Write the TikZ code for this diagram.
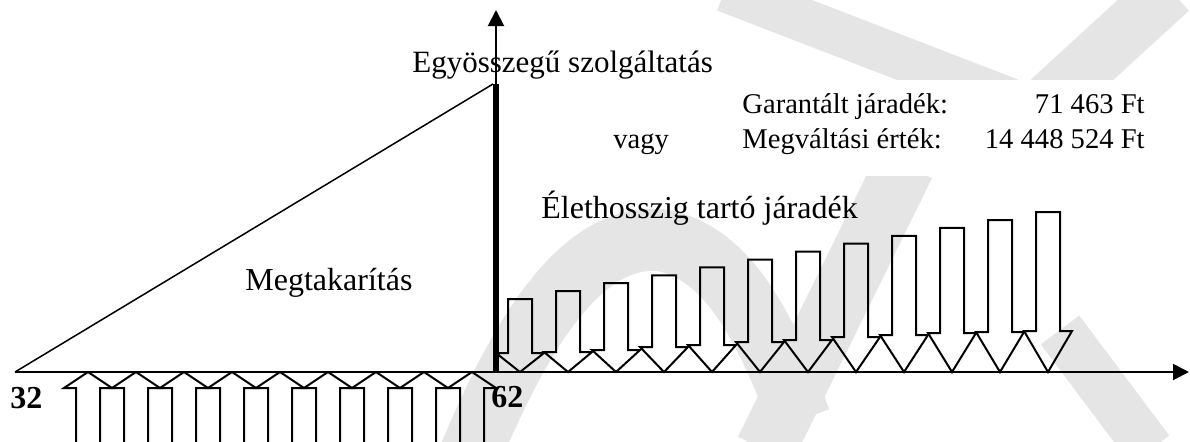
\documentclass[tikz,border=0pt]{standalone}
\usepackage{fontspec}
\setmainfont{Liberation Serif}
\usetikzlibrary{arrows.meta}
\definecolor{wm}{RGB}{229,229,229}
\begin{document}
\begin{tikzpicture}[x=0.5pt,y=-0.5pt,
  lbl/.style={anchor=base west,inner sep=0pt,font=\fontsize{16}{18}\selectfont},
  tbl/.style={inner sep=0pt,font=\fontsize{14.3}{16}\selectfont},
  num/.style={anchor=base west,inner sep=0pt,font=\fontsize{16}{18}\selectfont\bfseries},
  axisline/.style={line width=1pt,-{Triangle[length=8pt,width=8pt]}},
  payarrow/.style={line width=1pt,line join=miter},
  thinline/.style={line width=0.75pt},
  wmband/.style={draw=wm,line cap=butt},
]
\useasboundingbox (0,0) rectangle (1190,441);
\clip (0,0) rectangle (1190,441);

% faint watermark
\draw[wmband,line width=22pt] (725,-10) -- (1010,100);
\draw[wmband,line width=28pt] (1170,-10) -- (1050,100);
\draw[wmband,line width=30pt] (905,165) -- (765,450);
\draw[wmband,line width=31pt] (470,455) .. controls (530,310) and (590,235) .. (660,240)
   .. controls (720,250) and (760,310) .. (800,420);
\draw[wmband,line width=24pt] (1060,330) -- (1150,450);
\fill[white] (722,80) rectangle (1190,176);

% axes
\coordinate (o32) at (15,372);
\coordinate (o62) at (496,372);
\coordinate (xend) at (1189,372);
\coordinate (yend) at (496,10);
\coordinate (apex) at (493,84);
\coordinate (bartop) at (496,84);

% savings triangle
\draw[thinline] (o32) -- (apex);
\draw[axisline] (o32) -- (xend);
\draw[axisline] (o62) -- (yend);
\draw[line width=3.2pt] (o62) -- (bartop);

% upward payment arrows (savings)
\foreach \k in {0,...,8} {
  \pgfmathsetmacro\t{88+48*\k}
  \draw[payarrow] (\t-12,450) -- (\t-12,388) -- (\t-24,388) -- (\t,372)
     -- (\t+24,388) -- (\t+12,388) -- (\t+12,450);
}

% downward annuity arrows
\foreach \b [count=\k from 0] in {353,352,350,347,345,342,340,337,335,333,332,331} {
  \pgfmathsetmacro\t{520+48*\k}
  \pgfmathsetmacro\s{299-7.9*\k}
  \draw[payarrow] (\t-12,\s) -- (\t+12,\s) -- (\t+12,\b) -- (\t+24,\b)
     -- (\t,372) -- (\t-24,\b) -- (\t-12,\b) -- cycle;
}

% labels
\node[lbl,font=\fontsize{15.5}{18}\selectfont] (egy) at (412,72) {Egyösszegű szolgáltatás};
\node[lbl] (elet) at (541,218) {Élethosszig tartó járadék};
\node[lbl] (megtak) at (245,290) {Megtakarítás};
\node[tbl,anchor=base west] (vagy) at (613,148) {vagy};
\node[tbl,anchor=base west] (gar) at (742,113) {Garantált járadék:};
\node[tbl,anchor=base east] (garv) at (1145,113) {71 463 Ft};
\node[tbl,anchor=base west] (megv) at (742,148) {Megváltási érték:};
\node[tbl,anchor=base east] (megvv) at (1145,148) {14 448 524 Ft};
\node[num] (n32) at (10,408) {32};
\node[num] (n62) at (491,407) {62};
\end{tikzpicture}
\end{document}
